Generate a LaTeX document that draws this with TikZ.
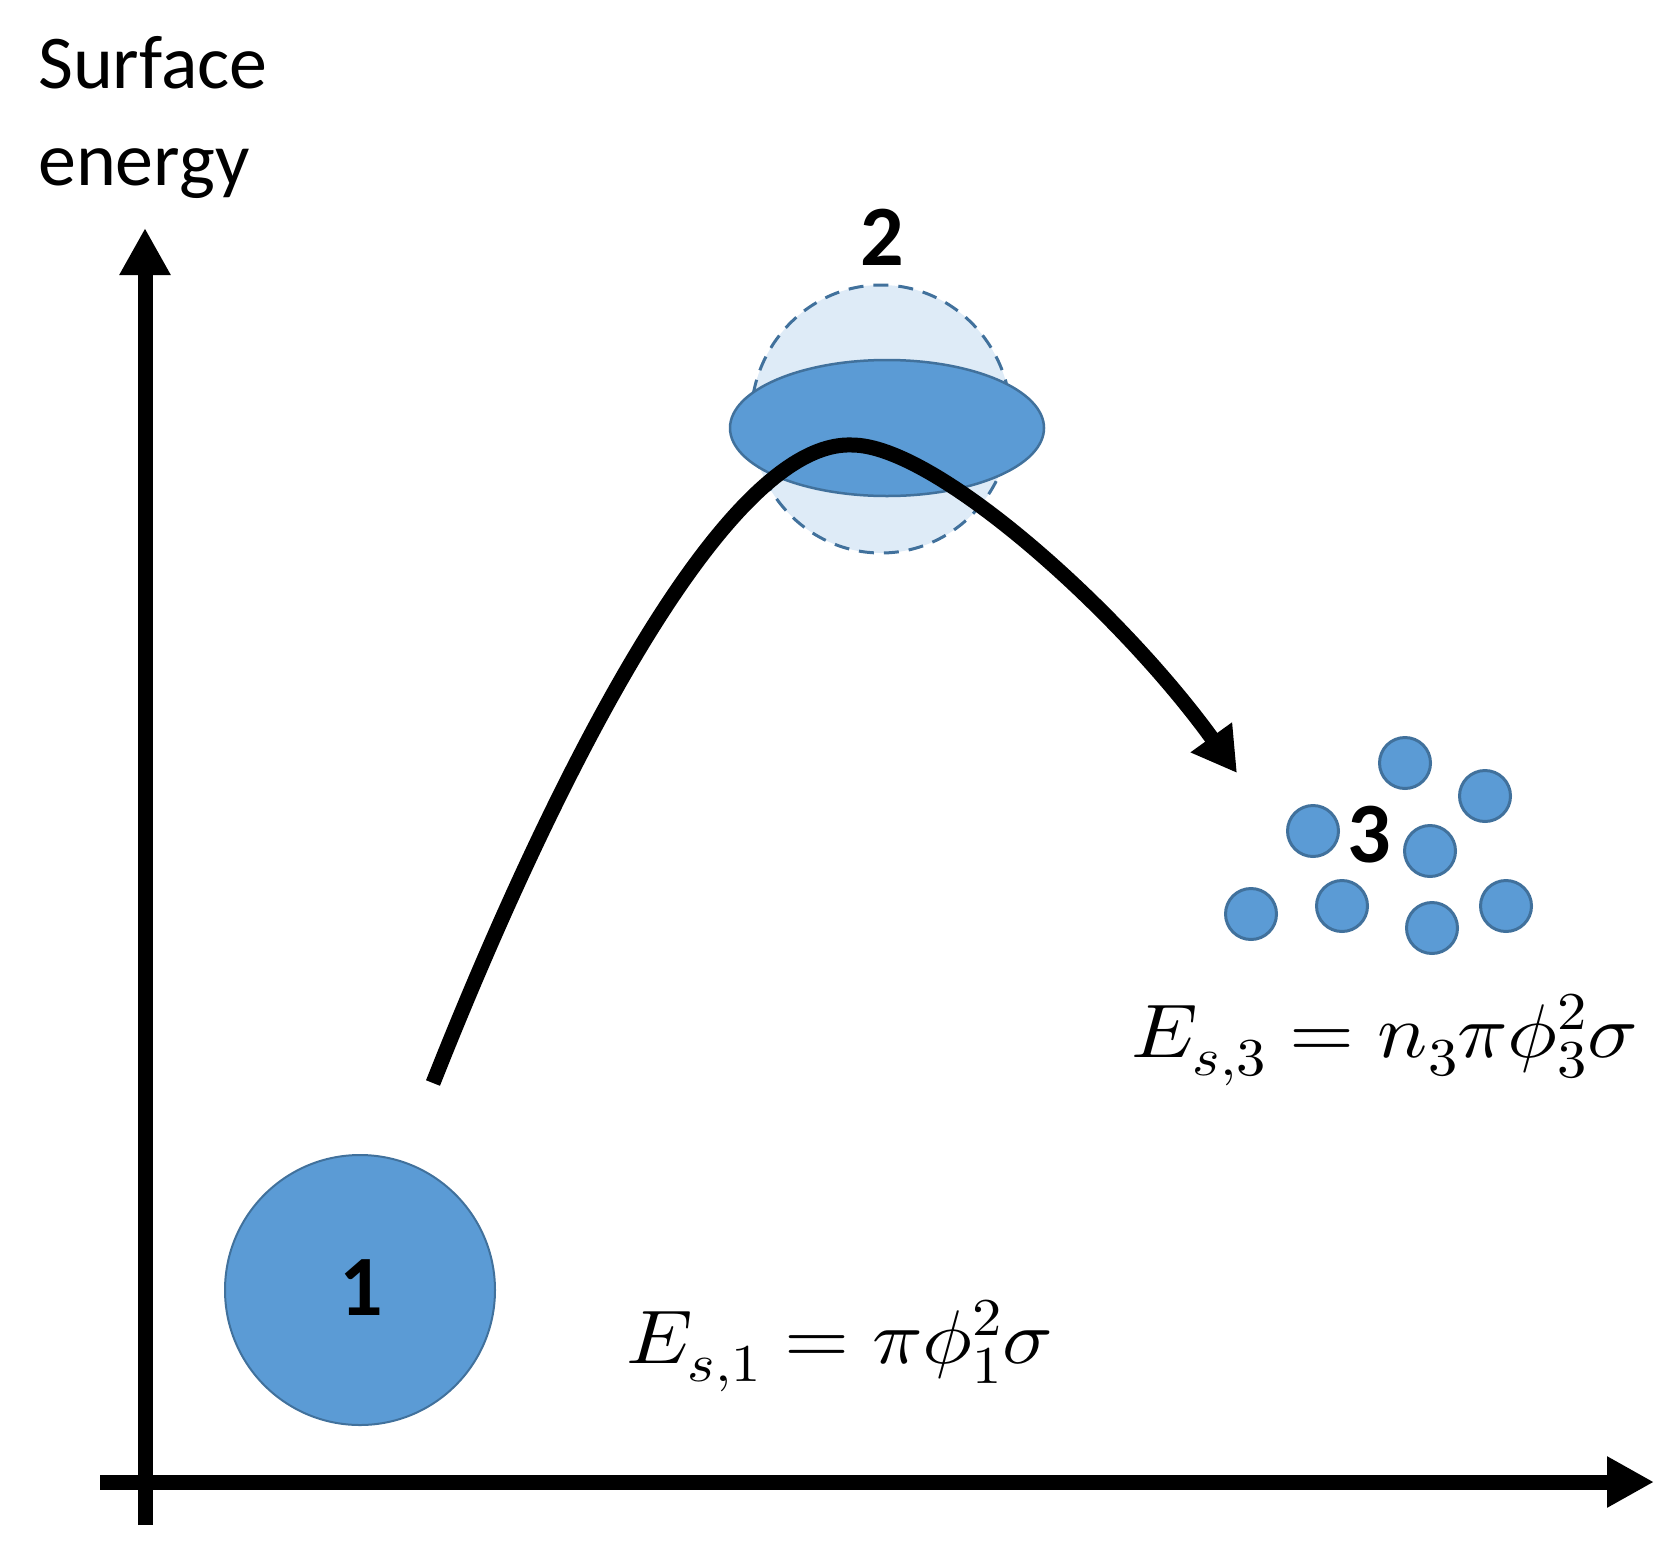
\documentclass[tikz,border=0pt]{standalone}
\usepackage{fontspec}
\usepackage{unicode-math}
\setmathfont{Latin Modern Math}
\newfontfamily\carlito{Carlito}
\usetikzlibrary{arrows.meta,shapes.geometric}
\definecolor{blueA}{HTML}{5B9BD5}
\definecolor{blueB}{HTML}{41719C}
\definecolor{blueL}{HTML}{DEEBF7}
\begin{document}
\begin{tikzpicture}[x=1pt,y=-1pt,
  axisline/.style={line width=15pt,-{Triangle[length=47pt,width=48pt]}},
  pathline/.style={line width=15pt,-{Triangle[length=44pt,width=48pt]}},
  bubble/.style={circle,fill=blueA,draw=blueB,line width=2.5pt,inner sep=0pt},
  digit/.style={font=\carlito\bfseries\fontsize{86}{90}\selectfont,inner sep=0pt},
  formula/.style={font=\fontsize{76}{80}\selectfont,inner sep=0pt,anchor=base west},
  axlabel/.style={font=\carlito\fontsize{76}{90}\selectfont,inner sep=0pt,anchor=base west}]
\useasboundingbox (0,0) rectangle (1670,1542);
% axis label
\node[axlabel] (lab1) at (38,88) {Surface};
\node[axlabel] (lab2) at (38,185) {energy};
% axes
\coordinate (ybot) at (145,1525);
\coordinate (ytop) at (145,228);
\coordinate (xl) at (100,1482);
\coordinate (xr) at (1654,1482);
\draw[axisline] (ybot) -- (ytop);
\draw[axisline] (xl) -- (xr);
% state 1
\node[bubble,minimum size=270pt,line width=2pt] (s1) at (360,1290) {};
\node[digit] (d1) at (361,1288) {1};
% state 2
\node[ellipse,fill=blueL,draw=blueB,line width=3pt,dash pattern=on 15pt off 10pt,
      minimum width=260pt,minimum height=268pt,inner sep=0pt] (s2b) at (881,419) {};
\node[ellipse,fill=blueA,draw=blueB,line width=2.5pt,
      minimum width=314pt,minimum height=136pt,inner sep=0pt] (s2) at (887,428) {};
\node[digit] (d2) at (882,237) {2};
% path
\coordinate (cs) at (433,1083);
\coordinate (cp) at (852,445);
\coordinate (ce) at (1237,773);
\draw[pathline] (cs) .. controls (555,775) and (725,440) .. (cp)
  .. controls (935,445) and (1120,611) .. (ce);
% state 3
\foreach \n/\x/\y in {a/1405/763, b/1485/796, c/1313/831, d/1430/851,
                      e/1251/914, f/1342/906, g/1432/928, h/1506/906}
  \node[bubble,minimum size=51pt,line width=3pt] (s3\n) at (\x,\y) {};
\node[digit] (d3) at (1369,835) {3};
% formulas
\node[formula] (f1) at (626,1363) {\scalebox{1.1}[1]{$E_{s,1} = \pi\phi_1^2\sigma$}};
\node[formula] (f3) at (1131,1057) {\scalebox{1.1}[1]{$E_{s,3} = n_3\pi\phi_3^2\sigma$}};
\end{tikzpicture}
\end{document}
